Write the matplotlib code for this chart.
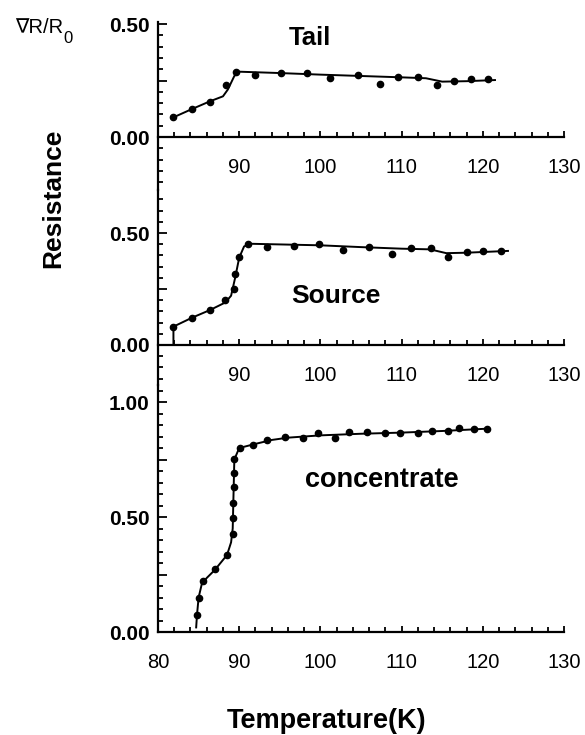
import matplotlib
matplotlib.use("Agg")
import matplotlib.pyplot as plt
from matplotlib.ticker import MultipleLocator, FuncFormatter

plt.rcParams['font.family'] = ['Liberation Sans', 'DejaVu Sans']


# Tail
tail_T = [81.9, 84.2, 86.4, 88.4, 89.6, 91.9, 95.2, 98.3, 101.2, 104.6, 107.4,
          109.5, 112.0, 114.3, 116.5, 118.5, 120.6]
tail_R = [0.087, 0.124, 0.156, 0.228, 0.287, 0.274, 0.282, 0.285, 0.260, 0.274,
          0.236, 0.267, 0.267, 0.230, 0.249, 0.255, 0.255]
tail_fit_T = [81.9, 84.2, 86.4, 88.0, 88.6, 89.4, 90.0, 95.0, 100.0, 105.0,
              110.0, 113.0, 115.0, 118.0, 121.5]
tail_fit_R = [0.087, 0.124, 0.158, 0.180, 0.210, 0.270, 0.289, 0.283, 0.276,
              0.270, 0.264, 0.260, 0.245, 0.247, 0.252]

# Source
source_T = [81.9, 84.2, 86.4, 88.3, 89.3, 89.5, 90.0, 91.1, 93.4, 96.8, 99.8,
            102.8, 106.0, 108.8, 111.1, 113.6, 115.7, 118.0, 120.0, 122.2]
source_R = [0.082, 0.122, 0.156, 0.199, 0.249, 0.316, 0.394, 0.450, 0.439, 0.443,
            0.450, 0.424, 0.439, 0.406, 0.434, 0.432, 0.394, 0.417, 0.420, 0.421]
source_fit_T = [81.9, 81.9, 84.2, 86.4, 88.3, 89.0, 89.5, 90.0, 90.6, 91.3,
                100.0, 105.0, 110.0, 113.5, 115.5, 118.0, 123.1]
source_fit_R = [0.0, 0.082, 0.122, 0.156, 0.190, 0.220, 0.300, 0.390, 0.440,
                0.452, 0.445, 0.437, 0.430, 0.427, 0.410, 0.412, 0.420]

# concentrate
conc_T = [84.8, 85.0, 85.5, 87.0, 88.5, 89.2, 89.2, 89.2, 89.3, 89.4, 89.4, 90.1,
          91.7, 93.4, 95.7, 97.8, 99.7, 101.8, 103.5, 105.8, 107.9, 109.8, 112.0,
          113.7, 115.7, 117.1, 118.9, 120.5]
conc_R = [0.074, 0.146, 0.220, 0.272, 0.336, 0.425, 0.496, 0.562, 0.632, 0.690,
          0.753, 0.799, 0.813, 0.833, 0.849, 0.845, 0.864, 0.842, 0.868, 0.868,
          0.864, 0.867, 0.867, 0.874, 0.874, 0.886, 0.883, 0.883]
conc_fit_T = [84.7, 84.8, 85.0, 85.4, 86.0, 87.0, 88.5, 89.0, 89.2, 89.3, 89.4,
              90.0, 92.0, 94.0, 96.0, 100.0, 105.0, 110.0, 115.0, 120.5]
conc_fit_R = [0.020, 0.074, 0.150, 0.210, 0.235, 0.270, 0.335, 0.390, 0.450,
              0.600, 0.750, 0.800, 0.818, 0.835, 0.845, 0.855, 0.862, 0.867,
              0.874, 0.884]


def etiqueta_y(v, pos):
  if v > -0.001 and abs(v * 2 - round(v * 2)) < 0.001:
    return '%.2f' % v
  return ''


def preparar(ax, ymin, ymax, xmin_label):
  ax.set_xlim(80, 130)
  ax.set_ylim(ymin, ymax)
  ax.patch.set_alpha(0)
  ax.spines['top'].set_visible(False)
  ax.spines['right'].set_visible(False)
  ax.spines['bottom'].set_position(('data', 0))
  ax.spines['left'].set_linewidth(1.6)
  ax.spines['bottom'].set_linewidth(1.6)
  ax.xaxis.set_major_locator(MultipleLocator(10))
  ax.xaxis.set_minor_locator(MultipleLocator(2))
  ax.yaxis.set_major_locator(MultipleLocator(0.25))
  ax.yaxis.set_minor_locator(MultipleLocator(0.05))
  ax.yaxis.set_major_formatter(FuncFormatter(etiqueta_y))
  ax.xaxis.set_major_formatter(FuncFormatter(lambda v, p: '%d' % v if v >= xmin_label else ''))
  ax.tick_params(axis='x', which='major', direction='in', length=4.5, width=1.3, pad=15, labelsize=14.5)
  ax.tick_params(axis='x', which='minor', direction='in', length=3.5, width=1.3)
  ax.tick_params(axis='y', which='major', direction='in', length=6.5, width=1.3, pad=6, labelsize=15)
  ax.tick_params(axis='y', which='minor', direction='in', length=3.3, width=1.3)
  plt.setp(ax.get_yticklabels(), fontweight='bold')


fig = plt.figure(figsize=(5.85, 7.35), dpi=100)

# tres paneles apilados, el eje y queda continuo
ax1 = fig.add_axes([0.2701, 0.7415, 0.694, 0.2286])
ax2 = fig.add_axes([0.2701, 0.4762, 0.694, 0.2653])
ax3 = fig.add_axes([0.2701, 0.1401, 0.694, 0.3361])

preparar(ax1, -0.2345, 0.509, 85)
preparar(ax2, -0.1786, 0.692, 85)
preparar(ax3, 0.0, 1.074, 75)

ax1.plot(tail_fit_T, tail_fit_R, color='black', linewidth=1.4)
ax1.plot(tail_T, tail_R, 'o', color='black', markersize=4.5)
ax1.text(98.7, 0.407, 'Tail', fontsize=18.5, fontweight='bold', ha='center', va='baseline')

ax2.plot(source_fit_T, source_fit_R, color='black', linewidth=1.4)
ax2.plot(source_T, source_R, 'o', color='black', markersize=4.5)
ax2.text(101.9, 0.1875, 'Source', fontsize=19, fontweight='bold', ha='center', va='baseline')

ax3.plot(conc_fit_T, conc_fit_R, color='black', linewidth=1.4)
ax3.plot(conc_T, conc_R, 'o', color='black', markersize=4.5)
ax3.text(107.6, 0.632, 'concentrate', fontsize=19.5, fontweight='bold', ha='center', va='baseline')

fig.text(0.559, 0.0095, 'Temperature(K)', fontsize=19.5, fontweight='bold', ha='center', va='baseline')
fig.text(0.0906, 0.7306, 'Resistance', fontsize=19, fontweight='bold', rotation=90,
         ha='center', va='center')

# nabla R / R con subindice 0
t = fig.text(0.0256, 0.955, '∇R/R', fontsize=14.5, ha='left', va='baseline')
ax1.annotate('0', xy=(1.0, 0.0), xycoords=t, xytext=(0.5, -4),
             textcoords='offset points', fontsize=12, ha='left', va='baseline',
             annotation_clip=False)

plt.savefig('out.png', dpi=100)
plt.close()
